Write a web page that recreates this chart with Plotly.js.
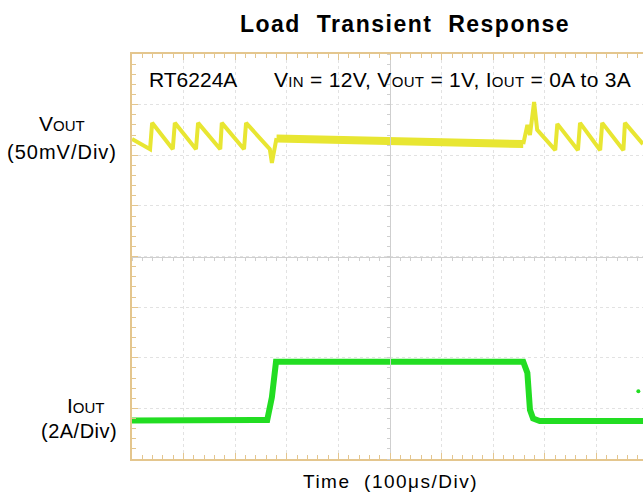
<!DOCTYPE html>
<html>
<head>
<meta charset="utf-8">
<script src="https://cdn.plot.ly/plotly-3.0.1.min.js"></script>
<style>html,body{margin:0;padding:0;background:#fff;}#chart{width:643px;height:501px;}</style>
</head>
<body>
<div id="chart"></div>
<script>
// Time in microseconds (100 us/div), amplitude in screen divisions
const voutPreT  = [0, 35, 39, 79, 83, 124, 128, 171, 174, 217, 221, 267, 271, 280];
const voutPreV  = [2.32, 2.12, 2.64, 2.12, 2.64, 2.12, 2.64, 2.12, 2.64, 2.12, 2.64, 2.12, 1.85, 2.34];
const voutFlatT = [280, 350, 420, 500, 580, 660, 758];
const voutFlatV = [2.33, 2.31, 2.29, 2.27, 2.25, 2.23, 2.22];
const voutPostT = [758, 766, 771, 779, 785, 820, 824, 864, 868, 907, 911, 952, 955, 990];
const voutPostV = [2.22, 2.60, 2.40, 3.05, 2.50, 2.10, 2.62, 2.10, 2.64, 2.10, 2.64, 2.10, 2.64, 2.22];
const ioutT = [0, 130, 262, 271, 279, 500, 758, 766, 771, 777, 790, 990];
const ioutV = [-3.24, -3.23, -3.23, -2.78, -2.08, -2.08, -2.08, -2.30, -3.03, -3.20, -3.25, -3.25];
const dotT = [981];
const dotV = [-2.66];

const FONT = 'Arial, "Liberation Sans", sans-serif';
const FRAME = '#e4c68e';
const YEL = 'rgb(232,230,50)';
const GRN = 'rgb(34,221,34)';
const CROSS = '#cfcfcf';

const L = 132, T = 54, W = 511, H = 405;
const px = v => (v - L) / W;
const py = v => (T + H - v) / H;

const traces = [
  {x: voutPreT, y: voutPreV, mode: 'lines', line: {color: YEL, width: 4}, hoverinfo: 'skip'},
  {x: voutFlatT, y: voutFlatV, mode: 'lines', line: {color: YEL, width: 8}, hoverinfo: 'skip'},
  {x: voutPostT, y: voutPostV, mode: 'lines', line: {color: YEL, width: 4}, hoverinfo: 'skip'},
  {x: ioutT, y: ioutV, mode: 'lines', line: {color: GRN, width: 6}, hoverinfo: 'skip'},
  {x: dotT, y: dotV, mode: 'markers', marker: {color: GRN, size: 4}, xaxis: 'x2', yaxis: 'y2', hoverinfo: 'skip'}
];

const sub = s => '<span style="font-size:15px">' + s + '</span>';
const sp = (s, n) => '<span style="letter-spacing:' + n + 'px">' + s + '</span>';

const layout = {
  width: 643, height: 501,
  margin: {l: L, r: 0, t: T, b: 501 - T - H},
  paper_bgcolor: '#fff', plot_bgcolor: '#fff',
  showlegend: false,
  font: {family: FONT, color: '#000'},
  title: {text: '<b>' + sp('Load  Transient  Response', 1.5) + '</b>', font: {size: 23, family: FONT, color: '#000'},
          x: 405 / 643, xref: 'container', xanchor: 'center', y: 1 - 24 / 501, yref: 'container', yanchor: 'middle'},
  xaxis: {range: [0, 990], showline: true, linecolor: FRAME, linewidth: 2, mirror: 'ticks',
          ticks: 'inside', ticklen: 6, tickcolor: FRAME, tickwidth: 1, dtick: 100, tick0: 0,
          showticklabels: false, showgrid: true, gridcolor: '#e2e2e2', griddash: 'dot', gridwidth: 1,
          zeroline: false, fixedrange: true,
          minor: {dtick: 20, tick0: 0, ticks: 'inside', ticklen: 4, tickcolor: FRAME, showgrid: false}},
  yaxis: {range: [-4, 4], showline: true, linecolor: FRAME, linewidth: 2, mirror: false,
          ticks: 'inside', ticklen: 6, tickcolor: FRAME, tickwidth: 1, dtick: 1, tick0: 0,
          showticklabels: false, showgrid: true, gridcolor: '#e2e2e2', griddash: 'dot', gridwidth: 1,
          zeroline: false, fixedrange: true,
          minor: {dtick: 0.2, tick0: 0, ticks: 'inside', ticklen: 4, tickcolor: FRAME, showgrid: false}},
  xaxis2: {overlaying: 'x', anchor: 'free', position: 0.5, range: [0, 990], showline: true,
           linecolor: CROSS, linewidth: 1, ticks: 'outside', ticklen: 3, tickcolor: CROSS,
           dtick: 100, tick0: 0, showticklabels: false, showgrid: false, zeroline: false,
           minor: {dtick: 20, tick0: 0, ticks: 'outside', ticklen: 3, tickcolor: CROSS, showgrid: false}},
  yaxis2: {overlaying: 'y', anchor: 'free', position: 500 / 990, range: [-4, 4], showline: true,
           linecolor: CROSS, linewidth: 1, ticks: 'outside', ticklen: 3, tickcolor: CROSS,
           dtick: 1, tick0: 0, showticklabels: false, showgrid: false, zeroline: false,
           minor: {dtick: 0.2, tick0: 0, ticks: 'outside', ticklen: 3, tickcolor: CROSS, showgrid: false}},
  annotations: [
    {text: 'RT6224A', xref: 'paper', yref: 'paper', x: px(147), y: py(79), xanchor: 'left', yanchor: 'middle',
     showarrow: false, font: {size: 21, family: FONT}},
    {text: sp('V' + sub('IN') + ' = 12V, V' + sub('OUT') + ' = 1V, I' + sub('OUT') + ' = 0A to 3A', 0.3),
     xref: 'paper', yref: 'paper', x: px(272), y: py(79), xanchor: 'left', yanchor: 'middle',
     showarrow: false, font: {size: 21, family: FONT}},
    {text: 'V' + sub('OUT'), xref: 'paper', yref: 'paper', x: px(87), y: py(123), xanchor: 'right', yanchor: 'middle',
     showarrow: false, font: {size: 21, family: FONT}},
    {text: sp('(50mV/Div)', 1), xref: 'paper', yref: 'paper', x: px(119), y: py(152), xanchor: 'right', yanchor: 'middle',
     showarrow: false, font: {size: 20, family: FONT}},
    {text: 'I' + sub('OUT'), xref: 'paper', yref: 'paper', x: px(107), y: py(405), xanchor: 'right', yanchor: 'middle',
     showarrow: false, font: {size: 21, family: FONT}},
    {text: sp('(2A/Div)', 0.5), xref: 'paper', yref: 'paper', x: px(119), y: py(431), xanchor: 'right', yanchor: 'middle',
     showarrow: false, font: {size: 20, family: FONT}},
    {text: sp('Time  (100μs/Div)', 1.5), xref: 'paper', yref: 'paper', x: px(390), y: py(482), xanchor: 'center', yanchor: 'middle',
     showarrow: false, font: {size: 19, family: FONT}}
  ]
};

Plotly.newPlot('chart', traces, layout, {displayModeBar: false, staticPlot: true});
</script>
</body>
</html>
